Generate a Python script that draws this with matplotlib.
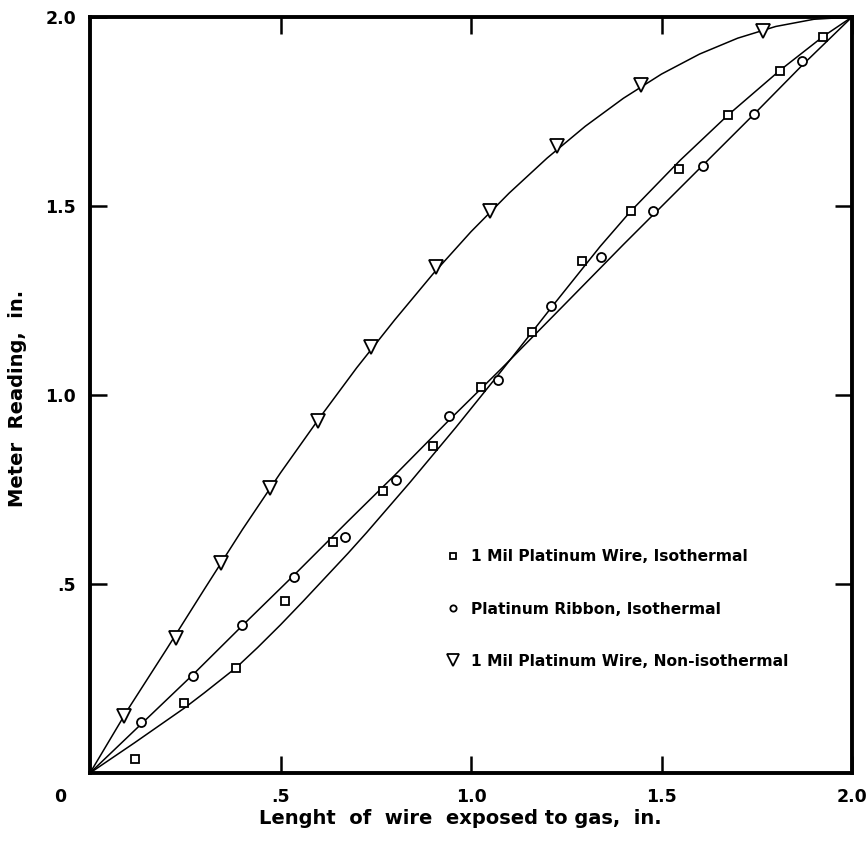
import matplotlib
matplotlib.use("Agg")
import matplotlib.pyplot as plt
from matplotlib.lines import Line2D

plt.rcParams['font.family'] = ['DejaVu Sans']
plt.rcParams['font.weight'] = 'bold'

# ---- measured data points ----
sq_x = [0.117, 0.248, 0.384, 0.511, 0.638, 0.770, 0.901, 1.025, 1.161, 1.292, 1.419, 1.546, 1.675, 1.811, 1.925]
sq_y = [0.037, 0.184, 0.277, 0.455, 0.612, 0.747, 0.866, 1.021, 1.166, 1.354, 1.488, 1.598, 1.742, 1.857, 1.948]

ci_x = [0.135, 0.270, 0.400, 0.535, 0.668, 0.802, 0.942, 1.071, 1.209, 1.342, 1.477, 1.610, 1.743, 1.870]
ci_y = [0.134, 0.257, 0.392, 0.519, 0.625, 0.774, 0.945, 1.040, 1.236, 1.364, 1.487, 1.607, 1.743, 1.883]

tr_x = [0.088, 0.225, 0.345, 0.473, 0.599, 0.737, 0.907, 1.050, 1.227, 1.445, 1.766]
tr_y = [0.152, 0.358, 0.555, 0.753, 0.932, 1.128, 1.339, 1.488, 1.660, 1.820, 1.963]

# ---- curves ----
sq_line_x = [0.0, 0.117, 0.248, 0.30, 0.384, 0.44, 0.50, 0.56, 0.677, 0.726, 0.84, 0.96, 1.08,
             1.22, 1.339, 1.419, 1.549, 1.675, 1.811, 1.925, 2.0]
sq_line_y = [0.0, 0.080, 0.172, 0.212, 0.279, 0.332, 0.392, 0.455, 0.581, 0.636, 0.769, 0.914, 1.064,
             1.243, 1.393, 1.486, 1.621, 1.741, 1.859, 1.949, 2.0]

ci_line_x = [0.0, 0.135, 0.27, 0.40, 0.535, 0.677, 0.80, 0.942, 1.08, 1.251, 1.40, 1.55, 1.743, 1.87, 2.0]
ci_line_y = [0.0, 0.130, 0.26, 0.39, 0.523, 0.666, 0.788, 0.933, 1.070, 1.245, 1.398, 1.549, 1.743, 1.873, 2.0]

tr_line_x = [0.0, 0.1, 0.2, 0.3, 0.4, 0.5, 0.6, 0.7, 0.8, 0.9, 1.0, 1.1, 1.2, 1.3, 1.4, 1.5,
             1.6, 1.7, 1.8, 1.9, 2.0]
tr_line_y = [0.0, 0.169, 0.326, 0.486, 0.644, 0.794, 0.936, 1.072, 1.199, 1.320, 1.432, 1.534,
             1.627, 1.711, 1.785, 1.849, 1.902, 1.944, 1.975, 1.994, 2.0]

x_ticks = [0.5, 1.0, 1.5, 2.0]
x_tick_labels = ['.5', '1.0', '1.5', '2.0']
y_ticks = [0.5, 1.0, 1.5, 2.0]
y_tick_labels = ['.5', '1.0', '1.5', '2.0']

labels = ['1 Mil Platinum Wire, Isothermal',
          'Platinum Ribbon, Isothermal',
          '1 Mil Platinum Wire, Non-isothermal']

fig = plt.figure(figsize=(8.67, 8.57), dpi=100)
ax = fig.add_axes([90 / 867, 1 - 773 / 857, 762 / 867, 756 / 857])

lw = 1.1
ax.plot(sq_line_x, sq_line_y, color='black', lw=lw, zorder=2, solid_joinstyle='round')
ax.plot(ci_line_x, ci_line_y, color='black', lw=lw, zorder=2, solid_joinstyle='round')
ax.plot(tr_line_x, tr_line_y, color='black', lw=lw, zorder=2, solid_joinstyle='round')

ax.plot(sq_x, sq_y, ls='none', marker='s', ms=6, mfc='white', mec='black', mew=1.3, zorder=3)
ax.plot(ci_x, ci_y, ls='none', marker='o', ms=6.5, mfc='white', mec='black', mew=1.3, zorder=3)
ax.plot(tr_x, tr_y, ls='none', marker='v', ms=10, mfc='white', mec='black', mew=1.3, zorder=3)

ax.set_xlim(0, 2.0)
ax.set_ylim(0, 2.0)
ax.set_xticks(x_ticks)
ax.set_xticklabels(x_tick_labels)
ax.set_yticks(y_ticks)
ax.set_yticklabels(y_tick_labels)
ax.tick_params(direction='in', length=12, width=1.8, top=True, right=True,
               labelsize=12.5, color='black')
ax.tick_params(axis='x', pad=11)
ax.tick_params(axis='y', pad=10)
for s in ax.spines.values():
    s.set_linewidth(2.8)

ax.text(-0.079, -0.063, '0', ha='center', va='center', fontsize=12.5,
        fontweight='bold', clip_on=False)

ax.set_xlabel('Lenght  of  wire  exposed to gas,  in.', fontsize=14, fontweight='bold')
ax.xaxis.set_label_coords((460 - 90) / 762, (773 - 809) / 756)
ax.set_ylabel('Meter  Reading,  in.', fontsize=14, fontweight='bold')
ax.yaxis.set_label_coords((27 - 90) / 762, (773 - 398) / 756)

handles = [
    Line2D([], [], ls='none', marker='s', ms=5, mfc='white', mec='black', mew=1.3),
    Line2D([], [], ls='none', marker='o', ms=4.5, mfc='white', mec='black', mew=1.3),
    Line2D([], [], ls='none', marker='v', ms=9, mfc='white', mec='black', mew=1.3),
]
leg = ax.legend(handles, labels, loc='center left',
                bbox_to_anchor=((446 - 90) / 762, (773 - 609) / 756),
                frameon=False, fontsize=11.2, handlelength=0.9, handletextpad=0.7,
                labelspacing=2.4, borderpad=0, borderaxespad=0)
for t in leg.get_texts():
    t.set_fontweight('bold')

fig.savefig('out.png', dpi=100)
